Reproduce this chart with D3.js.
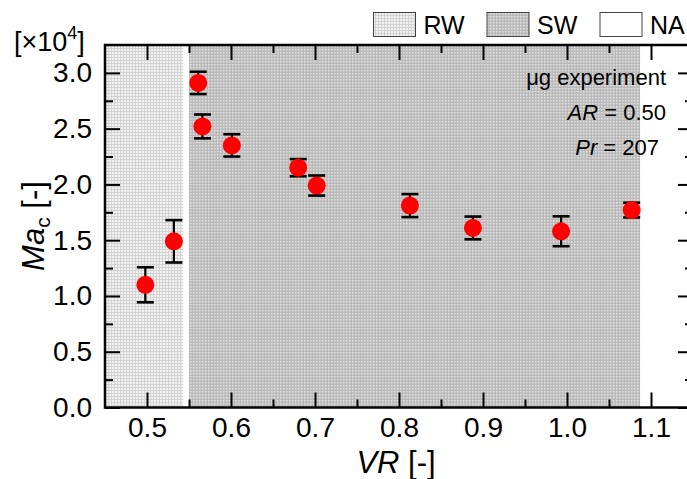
<!DOCTYPE html>
<html>
<head>
<meta charset="utf-8">
<script src="https://cdn.jsdelivr.net/npm/d3@7"></script>
<style>
  html, body { margin: 0; padding: 0; background: #fff; }
  svg { display: block; font-family: "Liberation Sans", Arial, Helvetica, sans-serif; }
</style>
</head>
<body>
<svg id="chart" width="687" height="479"></svg>
<script>
// Critical Marangoni number versus volume ratio
const vr      = [0.498, 0.532, 0.561, 0.566, 0.601, 0.680, 0.702, 0.813, 0.888, 0.993, 1.077];
const maC     = [1.10, 1.49, 2.91, 2.52, 2.35, 2.15, 1.99, 1.81, 1.61, 1.58, 1.77];   // ×10^4
const maErr   = [0.157, 0.19, 0.10, 0.107, 0.10, 0.077, 0.09, 0.103, 0.102, 0.134, 0.066];

// Flow regimes along VR
const regimeNames = ["RW", "SW", "NA"];
const regimeStart = [0.45, 0.55];
const regimeEnd   = [0.543, 1.087];

const xTicks      = [0.5, 0.6, 0.7, 0.8, 0.9, 1.0, 1.1];
const xMinorTicks = [0.55, 0.65, 0.75, 0.85, 0.95, 1.05];
const yTicks      = [0.0, 0.5, 1.0, 1.5, 2.0, 2.5, 3.0];
const yMinorTicks = [0.25, 0.75, 1.25, 1.75, 2.25, 2.75];

const svg = d3.select("#chart");
const plotL = 105, plotR = 693, plotT = 45, plotB = 407.5;

const x = d3.scaleLinear().domain([0.45, 1.15]).range([plotL, plotR]);
const y = d3.scaleLinear().domain([0, 3.25]).range([plotB, plotT]);

// Dot patterns for the regime bands
const defs = svg.append("defs");
const pRW = defs.append("pattern").attr("id", "patRW")
  .attr("patternUnits", "userSpaceOnUse").attr("width", 3).attr("height", 3);
pRW.append("rect").attr("width", 3).attr("height", 3).attr("fill", "#f2f2f2");
pRW.append("rect").attr("width", 1).attr("height", 3).attr("fill", "#d3d3d3");
pRW.append("rect").attr("width", 3).attr("height", 1).attr("fill", "#d3d3d3");

const pSW = defs.append("pattern").attr("id", "patSW")
  .attr("patternUnits", "userSpaceOnUse").attr("width", 3).attr("height", 3);
pSW.append("rect").attr("width", 3).attr("height", 3).attr("fill", "#bababa");
pSW.append("rect").attr("x", 1).attr("y", 1).attr("width", 1.5).attr("height", 1.5).attr("fill", "#e2e2e2");

const regimeFill = { RW: "url(#patRW)", SW: "url(#patSW)", NA: "#ffffff" };

// Regime bands
svg.append("g").selectAll("rect")
  .data(regimeStart.map((s, i) => ({ name: regimeNames[i], s, e: regimeEnd[i] })))
  .join("rect")
  .attr("x", d => x(d.s))
  .attr("y", plotT)
  .attr("width", d => x(d.e) - x(d.s))
  .attr("height", plotB - plotT)
  .attr("fill", d => regimeFill[d.name]);

// Axes with inward ticks on all four sides
function styleAxis(g) {
  g.select(".domain").remove();
  g.selectAll(".tick line").attr("stroke", "#000").attr("stroke-width", 2);
  g.selectAll(".tick text").attr("fill", "#000").attr("font-size", 28)
    .attr("font-family", "'Liberation Sans', Arial, sans-serif");
}

svg.append("g").attr("transform", `translate(0,${plotB})`)
  .call(d3.axisBottom(x).tickValues(xTicks).tickSize(-15).tickPadding(10).tickFormat(d3.format(".1f")))
  .call(styleAxis);
svg.append("g").attr("transform", `translate(0,${plotB})`)
  .call(d3.axisBottom(x).tickValues(xMinorTicks).tickSize(-8).tickFormat(""))
  .call(styleAxis);
svg.append("g").attr("transform", `translate(0,${plotT})`)
  .call(d3.axisTop(x).tickValues(xTicks).tickSize(-15).tickFormat(""))
  .call(styleAxis);
svg.append("g").attr("transform", `translate(0,${plotT})`)
  .call(d3.axisTop(x).tickValues(xMinorTicks).tickSize(-8).tickFormat(""))
  .call(styleAxis);

svg.append("g").attr("transform", `translate(${plotL},0)`)
  .call(d3.axisLeft(y).tickValues(yTicks).tickSize(-15).tickPadding(13).tickFormat(d3.format(".1f")))
  .call(styleAxis);
svg.append("g").attr("transform", `translate(${plotL},0)`)
  .call(d3.axisLeft(y).tickValues(yMinorTicks).tickSize(-8).tickFormat(""))
  .call(styleAxis);
svg.append("g").attr("transform", `translate(${plotR},0)`)
  .call(d3.axisRight(y).tickValues(yTicks).tickSize(-15).tickFormat(""))
  .call(styleAxis);
svg.append("g").attr("transform", `translate(${plotR},0)`)
  .call(d3.axisRight(y).tickValues(yMinorTicks).tickSize(-8).tickFormat(""))
  .call(styleAxis);

// Frame
svg.append("rect")
  .attr("x", plotL).attr("y", plotT)
  .attr("width", plotR - plotL).attr("height", plotB - plotT)
  .attr("fill", "none").attr("stroke", "#000").attr("stroke-width", 2.5);

// Error bars
const pts = vr.map((v, i) => ({ v, m: maC[i], e: maErr[i] }));
const capHalf = 8.5;
const eg = svg.append("g").attr("stroke", "#000").attr("stroke-width", 2.2);
eg.selectAll("line.stem").data(pts).join("line").attr("class", "stem")
  .attr("x1", d => x(d.v)).attr("x2", d => x(d.v))
  .attr("y1", d => y(d.m - d.e)).attr("y2", d => y(d.m + d.e));
eg.selectAll("line.capTop").data(pts).join("line").attr("class", "capTop")
  .attr("x1", d => x(d.v) - capHalf).attr("x2", d => x(d.v) + capHalf)
  .attr("y1", d => y(d.m + d.e)).attr("y2", d => y(d.m + d.e))
  .attr("stroke-width", 2.6);
eg.selectAll("line.capBot").data(pts).join("line").attr("class", "capBot")
  .attr("x1", d => x(d.v) - capHalf).attr("x2", d => x(d.v) + capHalf)
  .attr("y1", d => y(d.m - d.e)).attr("y2", d => y(d.m - d.e))
  .attr("stroke-width", 2.6);

// Markers
svg.append("g").selectAll("circle").data(pts).join("circle")
  .attr("cx", d => x(d.v)).attr("cy", d => y(d.m))
  .attr("r", 9).attr("fill", "#ff0000");

// Axis titles
const xt = svg.append("text")
  .attr("x", 396).attr("y", 473)
  .attr("text-anchor", "middle").attr("font-size", 31);
xt.append("tspan").attr("font-style", "italic").text("VR");
xt.append("tspan").text(" [-]");

const yt = svg.append("text")
  .attr("transform", "translate(44,226) rotate(-90)")
  .attr("text-anchor", "middle").attr("font-size", 31);
yt.append("tspan").attr("font-style", "italic").text("Ma");
yt.append("tspan").attr("font-size", 21).attr("dy", 6).text("c");
yt.append("tspan").attr("dy", -6).text(" [-]");

// Scale factor label
const sf = svg.append("text").attr("x", 14).attr("y", 51).attr("font-size", 27);
sf.append("tspan").text("[×10");
sf.append("tspan").attr("font-size", 18).attr("dy", -12).text("4");
sf.append("tspan").attr("dy", 12).text("]");

// Legend
const legX = [373.5, 487, 600];
const lg = svg.append("g");
regimeNames.forEach((name, i) => {
  lg.append("rect")
    .attr("x", legX[i]).attr("y", 12.5).attr("width", 42).attr("height", 24)
    .attr("fill", regimeFill[name]).attr("stroke", "#444").attr("stroke-width", 1);
  lg.append("text")
    .attr("x", legX[i] + 50).attr("y", 33.5).attr("font-size", 25)
    .text(name);
});

// Experiment conditions
const ann = svg.append("g").attr("font-size", 22).attr("text-anchor", "end");
ann.append("text").attr("x", 666).attr("y", 85).text("μg experiment");
const a2 = ann.append("text").attr("x", 666).attr("y", 120);
a2.append("tspan").attr("font-style", "italic").text("AR");
a2.append("tspan").text(" = 0.50");
const a3 = ann.append("text").attr("x", 659).attr("y", 155);
a3.append("tspan").attr("font-style", "italic").text("Pr");
a3.append("tspan").text(" = 207");
</script>
</body>
</html>
